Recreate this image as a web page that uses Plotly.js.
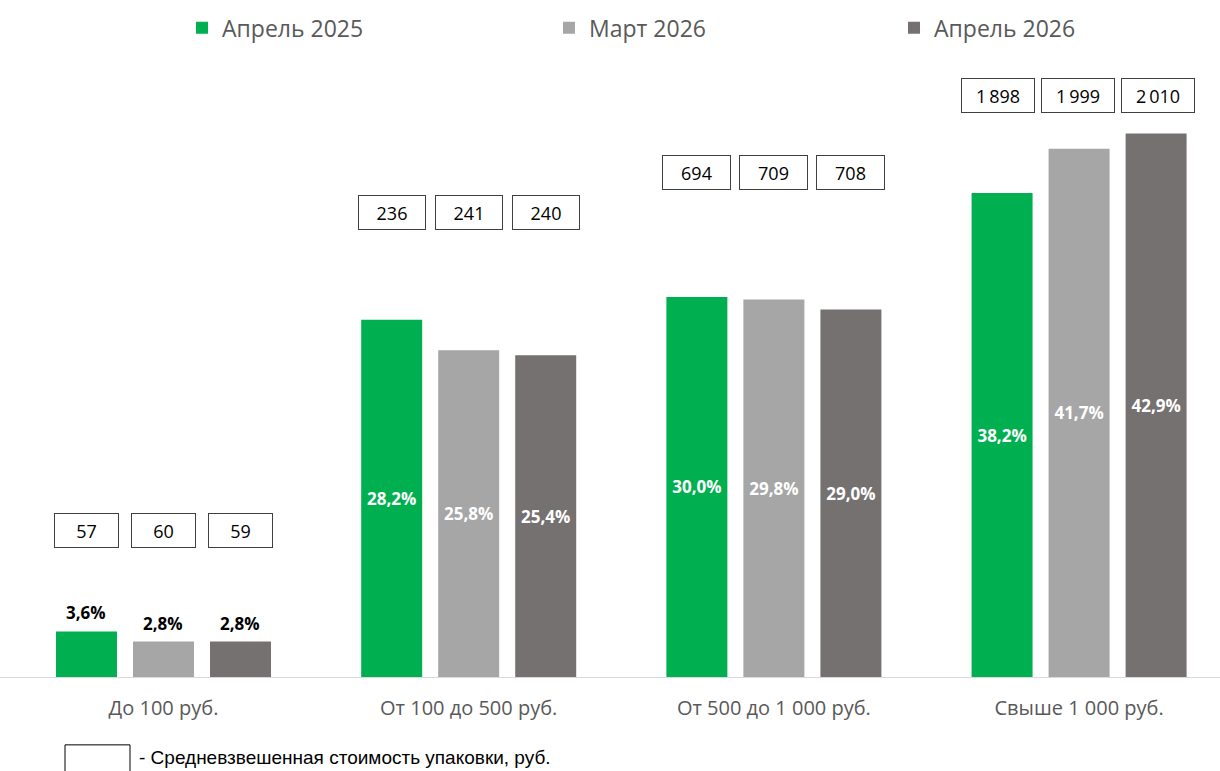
<!DOCTYPE html>
<html>
<head>
<meta charset="utf-8">
<script src="https://cdn.plot.ly/plotly-3.0.1.min.js"></script>
<style>html,body{margin:0;padding:0;background:#fff;}#chart{width:1220px;height:771px;}</style>
</head>
<body>
<div id="chart"></div>
<script>
// ---- data ----
const categories = ["До 100 руб.", "От 100 до 500 руб.", "От 500 до 1 000 руб.", "Свыше 1 000 руб."];
const seriesNames = ["Апрель 2025", "Март 2026", "Апрель 2026"];
const shareApr2025 = [3.6, 28.2, 30.0, 38.2];
const shareMar2026 = [2.8, 25.8, 29.8, 41.7];
const shareApr2026 = [2.8, 25.4, 29.0, 42.9];
const priceApr2025 = [57, 236, 694, 1898];
const priceMar2026 = [60, 241, 709, 1999];
const priceApr2026 = [59, 240, 708, 2010];
const noteText = "- Средневзвешенная стоимость упаковки, руб.";

// ---- layout helpers ----
const colors = ["#00b050", "#a6a6a6", "#767171"];
const shares = [shareApr2025, shareMar2026, shareApr2026];
const prices = [priceApr2025, priceMar2026, priceApr2026];
const boxLevel = [11.6, 36.7, 39.8, 45.9];      // y (data units) of price boxes per category
const boxWidth = [63, 66, 67, 72];
const fmtPct = v => v.toFixed(1).replace('.', ',') + '%';
const fmtNum = v => String(v).replace(/\B(?=(\d{3})+(?!\d))/g, '\u2009');
const slot = 77; // px between bar centres within a group

const traces = shares.map((vals, s) => ({
  type: 'bar',
  name: seriesNames[s],
  x: categories,
  y: vals,
  marker: {color: colors[s]},
  text: vals.map(v => v < 10 ? '' : fmtPct(v)),
  textposition: vals.map(v => v < 10 ? 'none' : 'inside'),
  insidetextanchor: 'middle',
  insidetextfont: {family: 'Open Sans', size: 17, color: '#ffffff', weight: 'bold'},
  textangle: 0,
  cliponaxis: false,
  hoverinfo: 'skip',
  legend: s === 0 ? 'legend' : (s === 1 ? 'legend2' : 'legend3')
}));

const annotations = [];
// small-share labels above the bars
shares.forEach((vals, s) => {
  vals.forEach((v, i) => {
    if (v < 10) {
      annotations.push({
        xref: 'x', yref: 'y', x: categories[i], y: v,
        xshift: (s - 1) * slot, yshift: 5,
        xanchor: 'center', yanchor: 'bottom', showarrow: false,
        text: '<b>' + fmtPct(v) + '</b>',
        font: {family: 'Open Sans', size: 17, color: '#000000'}
      });
    }
  });
});
// price boxes
prices.forEach((arr, s) => {
  arr.forEach((p, i) => {
    annotations.push({
      xref: 'x', yref: 'y', x: categories[i], y: boxLevel[i],
      xshift: (s - 1) * slot + (i === 3 ? (s === 0 ? -4 : (s === 2 ? 2 : -1)) : 0),
      text: fmtNum(p), showarrow: false,
      font: {family: 'Open Sans', size: 18, color: '#000000'},
      bordercolor: '#404040', borderwidth: 1, borderpad: 0,
      width: boxWidth[i], height: 33, bgcolor: '#ffffff',
      xanchor: 'center', yanchor: 'middle'
    });
  });
});
annotations.push({
  xref: 'paper', yref: 'paper', x: 137 / 1220, y: -0.131,
  xanchor: 'left', yanchor: 'middle', showarrow: false,
  text: noteText,
  font: {family: 'Liberation Sans', size: 19, color: '#000000'}
});

const legendCommon = {
  orientation: 'h', yref: 'paper', y: 1.052, yanchor: 'middle', xanchor: 'left',
  font: {family: 'Open Sans', size: 23, color: '#595959'},
  bgcolor: 'rgba(0,0,0,0)', itemclick: false, itemdoubleclick: false
};

const layout = {
  width: 1220, height: 771,
  margin: {l: 0, r: 0, t: 60, b: 94},
  paper_bgcolor: '#ffffff', plot_bgcolor: '#ffffff',
  barmode: 'group', bargap: 0.243, bargroupgap: 0.208,
  showlegend: true,
  legend: Object.assign({}, legendCommon, {x: 182 / 1220}),
  legend2: Object.assign({}, legendCommon, {x: 549 / 1220}),
  legend3: Object.assign({}, legendCommon, {x: 894 / 1220}),
  xaxis: {
    type: 'category', range: [-0.5357, 3.4617],
    showline: true, linecolor: '#d9d9d9', linewidth: 1,
    showgrid: false, zeroline: false, ticks: '',
    ticklabelstandoff: 13,
    tickfont: {family: 'Open Sans', size: 20, color: '#595959'},
    fixedrange: true
  },
  yaxis: {
    range: [0, 48.7], visible: false, showgrid: false, zeroline: false, fixedrange: true
  },
  shapes: [{
    type: 'rect', xref: 'paper', yref: 'paper',
    x0: 65 / 1220, x1: 130 / 1220, y0: -0.165, y1: -0.110,
    line: {color: '#000000', width: 1}, fillcolor: 'rgba(0,0,0,0)'
  }],
  annotations: annotations
};

Plotly.newPlot('chart', traces, layout, {displayModeBar: false, staticPlot: true});
</script>
</body>
</html>
